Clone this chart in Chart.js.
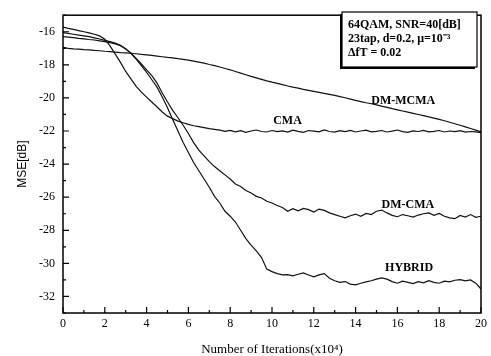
<!DOCTYPE html>
<html>
<head>
<meta charset="utf-8">
<script src="https://cdn.jsdelivr.net/npm/chart.js@4.4.0/dist/chart.umd.min.js"></script>
<style>
  html, body { margin: 0; padding: 0; background: #fff; }
</style>
</head>
<body>
<canvas id="myChart" width="491" height="356"></canvas>
<script>
// iterations (x10^4), sampled every 0.25
var iterations = Array.from({ length: 81 }, function (_, i) { return i * 0.25; });

var cma = [
  -15.72, -15.80, -15.86, -15.93, -16.00, -16.07, -16.15, -16.25,
  -16.45, -16.85, -17.35, -17.85, -18.40, -18.85, -19.30, -19.65,
  -19.95, -20.25, -20.55, -20.85, -21.10, -21.25, -21.40, -21.50,
  -21.60, -21.68, -21.74, -21.80, -21.86, -21.90, -21.95,
  -22.02, -21.96, -22.05, -21.98, -22.08, -22.00, -21.94, -22.03, -22.06, -21.97,
  -22.04, -21.99, -22.07, -21.95, -22.02, -22.08, -21.97, -22.01, -22.05, -21.93,
  -22.03, -22.07, -21.98, -22.04, -21.96, -22.06, -22.00, -21.95, -22.05, -22.02,
  -21.97, -22.06, -22.01, -21.94, -22.04, -22.08, -21.99, -22.03, -21.96, -22.05,
  -22.02, -21.97, -22.06, -22.00, -22.04, -21.98, -22.07, -22.03, -22.05, -22.10
];

var dmMcma = [
  -16.95, -17.00, -17.03, -17.05, -17.08, -17.10, -17.13, -17.15,
  -17.18, -17.20, -17.23, -17.26, -17.28, -17.30, -17.33, -17.37,
  -17.40, -17.43, -17.47, -17.51, -17.55, -17.58, -17.63, -17.67,
  -17.72, -17.78, -17.84, -17.90, -17.98, -18.05, -18.13, -18.22,
  -18.30, -18.40, -18.50, -18.60, -18.70, -18.79, -18.88, -18.97,
  -19.05, -19.12, -19.20, -19.28, -19.35, -19.41, -19.48, -19.54,
  -19.60, -19.66, -19.73, -19.79, -19.85, -19.92, -19.99, -20.07,
  -20.15, -20.22, -20.29, -20.35, -20.42, -20.50, -20.57, -20.65,
  -20.72, -20.79, -20.86, -20.93, -21.00, -21.07, -21.15, -21.22,
  -21.30, -21.38, -21.47, -21.56, -21.65, -21.75, -21.85, -21.95,
  -22.05
];

var dmCma = [
  -16.30, -16.33, -16.36, -16.40, -16.43, -16.47, -16.50, -16.55,
  -16.60, -16.66, -16.73, -16.85, -17.05, -17.30, -17.62, -17.95,
  -18.30, -18.65, -19.10, -19.70, -20.25, -20.75, -21.20, -21.65,
  -22.15, -22.70, -23.15, -23.50, -23.85, -24.15, -24.40, -24.65,
  -24.90, -25.20, -25.35, -25.60, -25.75, -25.95, -26.05, -26.25,
  -26.35, -26.50, -26.62, -26.85, -26.70, -26.82, -26.68, -26.75,
  -26.90, -26.72, -26.80, -26.95, -27.05, -27.15, -27.25, -27.12,
  -27.02, -27.15, -26.98, -27.05, -26.85, -26.78, -26.95, -27.10,
  -27.18, -27.05, -27.12, -27.20, -27.08, -27.00, -26.95, -27.10,
  -26.98, -27.15, -27.25, -27.30, -27.10, -27.20, -27.05, -27.22,
  -27.15
];

var hybrid = [
  -16.05, -16.10, -16.15, -16.20, -16.25, -16.30, -16.37, -16.44,
  -16.52, -16.60, -16.68, -16.82, -17.02, -17.30, -17.65, -18.05,
  -18.45, -18.90, -19.35, -19.95, -20.60, -21.30, -22.00, -22.70,
  -23.30, -23.90, -24.40, -24.90, -25.40, -25.95, -26.35, -26.85,
  -27.15, -27.50, -28.00, -28.50, -28.90, -29.25, -29.65, -30.35,
  -30.50, -30.62, -30.70, -30.68, -30.75, -30.66, -30.58, -30.70,
  -30.82, -30.70, -30.62, -30.90, -31.05, -31.15, -31.10, -31.25,
  -31.30, -31.20, -31.12, -31.05, -30.95, -30.88, -30.95, -31.10,
  -31.20, -31.08, -31.15, -31.22, -31.10, -31.18, -31.05, -31.15,
  -31.20, -31.08, -31.12, -31.02, -30.98, -31.06, -31.00, -31.20,
  -31.55
];

var xTickValues = [0, 2, 4, 6, 8, 10, 12, 14, 16, 18, 20];
var xMinorTicks = [1, 3, 5, 7, 9, 11, 13, 15, 17, 19];
var yTickValues = [-32, -30, -28, -26, -24, -22, -20, -18, -16];
var yMinorTicks = [-33, -31, -29, -27, -25, -23, -21, -19, -17, -15];

var curveLabels = ['CMA', 'DM-MCMA', 'DM-CMA', 'HYBRID'];
var labelX = [10.74, 16.28, 16.5, 16.56];
var labelY = [-21.4, -20.21, -26.45, -30.3];

var noteLines = ['64QAM, SNR=40[dB]', '23tap, d=0.2, \u03bc=10\u207b\u00b3', '\u0394fT = 0.02'];

function toPoints(values) {
  return values.map(function (v, i) { return { x: iterations[i], y: v }; });
}

var serif = 'Liberation Serif, Times New Roman, serif';

var framePlugin = {
  id: 'frame',
  afterDatasetsDraw: function (chart) {
    var ctx = chart.ctx;
    var a = chart.chartArea;
    var x = chart.scales.x;
    var y = chart.scales.y;
    ctx.save();
    ctx.strokeStyle = '#000';
    ctx.lineWidth = 1.5;
    ctx.strokeRect(a.left, a.top, a.right - a.left, a.bottom - a.top);

    // inward tick marks
    ctx.lineWidth = 1.2;
    ctx.beginPath();
    xTickValues.forEach(function (v) {
      var px = x.getPixelForValue(v);
      ctx.moveTo(px, a.bottom); ctx.lineTo(px, a.bottom - 6);
    });
    xMinorTicks.forEach(function (v) {
      var px = x.getPixelForValue(v);
      ctx.moveTo(px, a.bottom); ctx.lineTo(px, a.bottom - 3);
    });
    yTickValues.forEach(function (v) {
      var py = y.getPixelForValue(v);
      ctx.moveTo(a.left, py); ctx.lineTo(a.left + 6, py);
    });
    yMinorTicks.forEach(function (v) {
      var py = y.getPixelForValue(v);
      ctx.moveTo(a.left, py); ctx.lineTo(a.left + 3, py);
    });
    ctx.stroke();

    // curve names
    ctx.fillStyle = '#000';
    ctx.font = 'bold 12px ' + serif;
    ctx.textAlign = 'center';
    ctx.textBaseline = 'middle';
    curveLabels.forEach(function (t, i) {
      ctx.fillText(t, x.getPixelForValue(labelX[i]), y.getPixelForValue(labelY[i]));
    });

    // parameter box
    ctx.fillStyle = '#000';
    ctx.fillRect(340, 14, 135, 55);
    ctx.fillStyle = '#fff';
    ctx.fillRect(342, 12, 135, 55);
    ctx.lineWidth = 1.2;
    ctx.strokeRect(342, 12, 135, 55);
    ctx.fillStyle = '#000';
    ctx.font = 'bold 12px ' + serif;
    ctx.textAlign = 'left';
    noteLines.forEach(function (t, i) {
      ctx.fillText(t, 348, 25 + i * 14);
    });
    ctx.restore();
  }
};

var ctx = document.getElementById('myChart');
var myChart = new Chart(ctx, {
  type: 'line',
  data: {
    datasets: [
      { label: 'CMA', data: toPoints(cma) },
      { label: 'DM-MCMA', data: toPoints(dmMcma) },
      { label: 'DM-CMA', data: toPoints(dmCma) },
      { label: 'HYBRID', data: toPoints(hybrid) }
    ]
  },
  options: {
    responsive: false,
    animation: false,
    layout: { padding: { top: 10, right: 10, left: 0, bottom: 0 } },
    plugins: { legend: { display: false }, tooltip: { enabled: false } },
    elements: {
      point: { radius: 0 },
      line: { borderWidth: 1.2, borderColor: '#111', tension: 0, fill: false }
    },
    scales: {
      x: {
        type: 'linear', min: 0, max: 20,
        grid: { display: false, drawTicks: false }, border: { display: false },
        afterBuildTicks: function (s) { s.ticks = xTickValues.map(function (v) { return { value: v }; }); },
        afterFit: function (s) { s.height = 43; },
        ticks: { font: { family: serif, size: 12 }, color: '#000', padding: 4, maxRotation: 0, autoSkip: false },
        title: {
          display: true, text: 'Number of Iterations(x10\u2074)', color: '#000',
          font: { family: serif, size: 13, lineHeight: 1 }, padding: { top: 0, bottom: 0 }
        }
      },
      y: {
        min: -33, max: -15,
        grid: { display: false, drawTicks: false }, border: { display: false },
        afterBuildTicks: function (s) { s.ticks = yTickValues.map(function (v) { return { value: v }; }); },
        afterFit: function (s) { s.width = 63; },
        ticks: { font: { family: serif, size: 12 }, color: '#000', padding: 8, autoSkip: false },
        title: {
          display: true, text: 'MSE[dB]', color: '#000',
          font: { family: 'Liberation Sans, Arial, sans-serif', size: 12, lineHeight: 1.2 }, padding: { top: 15, bottom: 0 }
        }
      }
    }
  },
  plugins: [framePlugin]
});
</script>
</body>
</html>
